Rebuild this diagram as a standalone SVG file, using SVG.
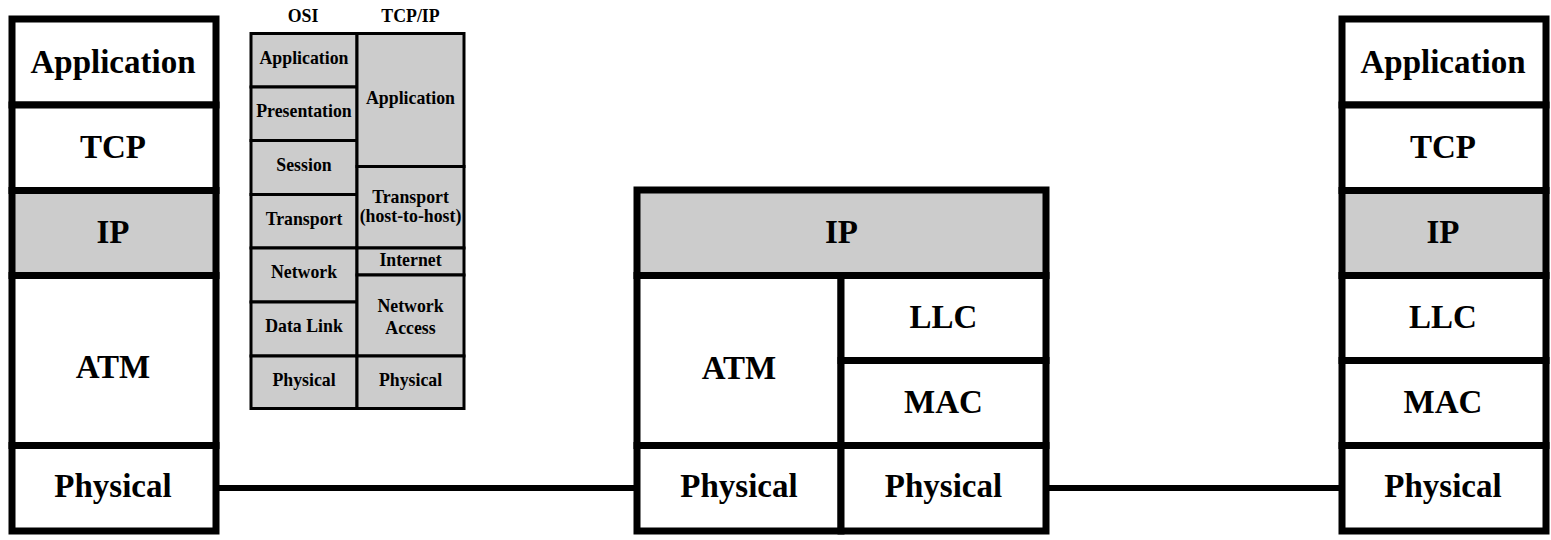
<svg xmlns="http://www.w3.org/2000/svg" width="1551" height="540" viewBox="0 0 1551 540">
<style>
.L{stroke:#000;stroke-width:7;fill:#fff}
.G{fill:#cccccc}
.T{stroke:#000;stroke-width:3;fill:#cccccc}
.big{font-family:"Liberation Serif","Times New Roman",serif;font-weight:bold;font-size:33px;text-anchor:middle;fill:#000}
.sm{font-family:"Liberation Serif","Times New Roman",serif;font-weight:bold;font-size:17.8px;text-anchor:middle;fill:#000}
.con{stroke:#000;stroke-width:6;fill:none}
</style>
<rect width="1551" height="540" fill="#fff"/>
<g id="connectors">
<line class="con" x1="216" y1="488" x2="637" y2="488"/>
<line class="con" x1="1046" y1="488" x2="1342" y2="488"/>
</g>
<g id="host-left">
<rect class="L" x="12" y="19" width="204" height="86"/>
<rect class="L" x="12" y="105" width="204" height="85.5"/>
<rect class="L G" x="12" y="190.5" width="204" height="85"/>
<rect class="L" x="12" y="275.5" width="204" height="170"/>
<rect class="L" x="12" y="445.5" width="204" height="85.5"/>
<text class="big" x="113" y="73">Application</text>
<text class="big" x="113" y="158">TCP</text>
<text class="big" x="113" y="243">IP</text>
<text class="big" x="113" y="378">ATM</text>
<text class="big" x="113" y="497">Physical</text>
</g>
<g id="router">
<rect class="L G" x="637" y="190" width="409" height="85.5"/>
<rect class="L" x="637" y="275.5" width="204" height="170"/>
<rect class="L" x="841" y="275.5" width="205" height="85"/>
<rect class="L" x="841" y="360.5" width="205" height="85"/>
<rect class="L" x="637" y="445.5" width="204" height="85.5"/>
<rect class="L" x="841" y="445.5" width="205" height="85.5"/>
<text class="big" x="841.5" y="243">IP</text>
<text class="big" x="739" y="379">ATM</text>
<text class="big" x="943.5" y="328">LLC</text>
<text class="big" x="943.5" y="413">MAC</text>
<text class="big" x="739" y="497">Physical</text>
<text class="big" x="943.5" y="497">Physical</text>
</g>
<g id="host-right">
<rect class="L" x="1342" y="19" width="204" height="86"/>
<rect class="L" x="1342" y="105" width="204" height="85.5"/>
<rect class="L G" x="1342" y="190.5" width="204" height="85"/>
<rect class="L" x="1342" y="275.5" width="204" height="85"/>
<rect class="L" x="1342" y="360.5" width="204" height="85"/>
<rect class="L" x="1342" y="445.5" width="204" height="85.5"/>
<text class="big" x="1443" y="73">Application</text>
<text class="big" x="1443" y="158">TCP</text>
<text class="big" x="1443" y="243">IP</text>
<text class="big" x="1443" y="328">LLC</text>
<text class="big" x="1443" y="413">MAC</text>
<text class="big" x="1443" y="497">Physical</text>
</g>
<g id="osi-tcpip-table">
<text class="sm" x="303" y="22">OSI</text>
<text class="sm" x="410.5" y="22">TCP/IP</text>
<rect class="T" x="251" y="33.5" width="106" height="53.5"/>
<rect class="T" x="251" y="87" width="106" height="53.5"/>
<rect class="T" x="251" y="140.5" width="106" height="54"/>
<rect class="T" x="251" y="194.5" width="106" height="53.5"/>
<rect class="T" x="251" y="248" width="106" height="54"/>
<rect class="T" x="251" y="302" width="106" height="54"/>
<rect class="T" x="251" y="356" width="106" height="52.5"/>
<rect class="T" x="357" y="33.5" width="107" height="133"/>
<rect class="T" x="357" y="166.5" width="107" height="81.5"/>
<rect class="T" x="357" y="248" width="107" height="27"/>
<rect class="T" x="357" y="275" width="107" height="81"/>
<rect class="T" x="357" y="356" width="107" height="52.5"/>
<text class="sm" x="304" y="64">Application</text>
<text class="sm" x="304" y="117">Presentation</text>
<text class="sm" x="304" y="170.5">Session</text>
<text class="sm" x="304" y="225">Transport</text>
<text class="sm" x="304" y="278">Network</text>
<text class="sm" x="304" y="331.5">Data Link</text>
<text class="sm" x="304" y="385.5">Physical</text>
<text class="sm" x="410.5" y="103.5">Application</text>
<text class="sm" x="410.5" y="203">Transport</text>
<text class="sm" x="410.5" y="222">(host-to-host)</text>
<text class="sm" x="410.5" y="265.5">Internet</text>
<text class="sm" x="410.5" y="312">Network</text>
<text class="sm" x="410.5" y="333.5">Access</text>
<text class="sm" x="410.5" y="385.5">Physical</text>
</g>
</svg>
